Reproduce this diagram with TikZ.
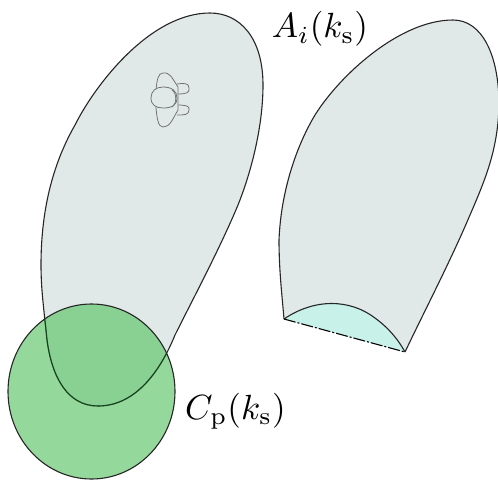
\documentclass[tikz,border=0pt]{standalone}
\usepackage{graphicx}
\begin{document}
\begin{tikzpicture}[x=1pt,y=-1pt,
 outl/.style={draw=black!85,line width=1.1pt},
 person/.style={draw=black!55,line width=0.8pt,fill=blobgrey,line join=round}]
\definecolor{blobgrey}{HTML}{E1E9E8}
\definecolor{cyanfill}{HTML}{C8F1EA}
\definecolor{circgreen}{HTML}{5CC468}
\definecolor{darkgreen}{HTML}{17401F}
\useasboundingbox (0,0) rectangle (498,480);
% left region
\draw[outl,fill=blobgrey] (210,13) .. controls (240,13) and (263,38) .. (263,85)
 .. controls (263,125) and (252,170) .. (238,205)
 .. controls (220,248) and (195,295) .. (175,335)
 .. controls (160,372) and (135,406) .. (98,406)
 .. controls (68,406) and (52,378) .. (47,340)
 .. controls (44,310) and (41,290) .. (41,265)
 .. controls (41,205) and (55,160) .. (75,125)
 .. controls (95,85) and (150,13) .. (210,13) -- cycle;
% person
\draw[person] (177,84) .. controls (184,83) and (189,83) .. (189,88) .. controls (190,93) and (186,94) .. (177,94);
\draw[person] (177,105) .. controls (186,105) and (190,106) .. (189,110) .. controls (189,115) and (184,115) .. (177,115);
\draw[person] (156,90) .. controls (157,80) and (158,73) .. (163,73)
 .. controls (170,72) and (172,78) .. (178,87) -- (178,110)
 .. controls (172,120) and (170,127) .. (163,127)
 .. controls (158,127) and (157,118) .. (156,108) -- cycle;
\draw[person] (151,98) .. controls (151,91) and (156,87) .. (163,87) .. controls (172,87) and (177,91) .. (177,98)
 .. controls (177,105) and (172,108) .. (163,108) .. controls (156,108) and (151,105) .. (151,98) -- cycle;
\draw[person,fill=none] (172,90) .. controls (177,93) and (177,104) .. (172,107);
% right region
\fill[blobgrey] (453,20) .. controls (482,20) and (499,55) .. (499,105)
 .. controls (498,150) and (485,180) .. (470,215)
 .. controls (450,262) and (425,310) .. (405,352)
 -- (284,319)
 .. controls (282,295) and (279,270) .. (279,240)
 .. controls (281,190) and (297,145) .. (315,115)
 .. controls (340,75) and (400,20) .. (453,20) -- cycle;
\fill[cyanfill] (284,319) .. controls (315,298) and (350,299) .. (375,318)
 .. controls (390,329) and (399,341) .. (405,352) -- cycle;
\draw[outl] (405,352)
 .. controls (425,310) and (450,262) .. (470,215)
 .. controls (485,180) and (498,150) .. (499,105)
 .. controls (499,55) and (482,20) .. (453,20)
 .. controls (400,20) and (340,75) .. (315,115)
 .. controls (297,145) and (281,190) .. (279,240)
 .. controls (279,270) and (282,295) .. (284,319);
\draw[outl] (284,319) .. controls (315,298) and (350,299) .. (375,318)
 .. controls (390,329) and (399,341) .. (405,352);
\draw[black,line width=1.1pt,dash pattern=on 12pt off 2pt on 2pt off 2pt] (284,319) -- (405,352);
% circle
\fill[circgreen,fill opacity=0.66] (91.5,391.5) ellipse [x radius=83.5pt,y radius=87.5pt];
\begin{scope}
\clip (91.5,391.5) ellipse [x radius=83.5pt,y radius=87.5pt];
\draw[draw=darkgreen,line width=1.1pt] (175,335)
 .. controls (160,372) and (135,406) .. (98,406)
 .. controls (68,406) and (52,378) .. (47,340)
 .. controls (44,310) and (41,290) .. (41,265);
\end{scope}
\draw[outl] (91.5,391.5) ellipse [x radius=83.5pt,y radius=87.5pt];
% labels
\node[inner sep=0pt] (ai) at (320,29) {\scalebox{3.5}{$A_i(k_{\mathrm{s}})$}};
\node[inner sep=0pt] (cl) at (235.5,411) {\scalebox{3.5}{$C_{\mathrm{p}}(k_{\mathrm{s}})$}};
\end{tikzpicture}
\end{document}
